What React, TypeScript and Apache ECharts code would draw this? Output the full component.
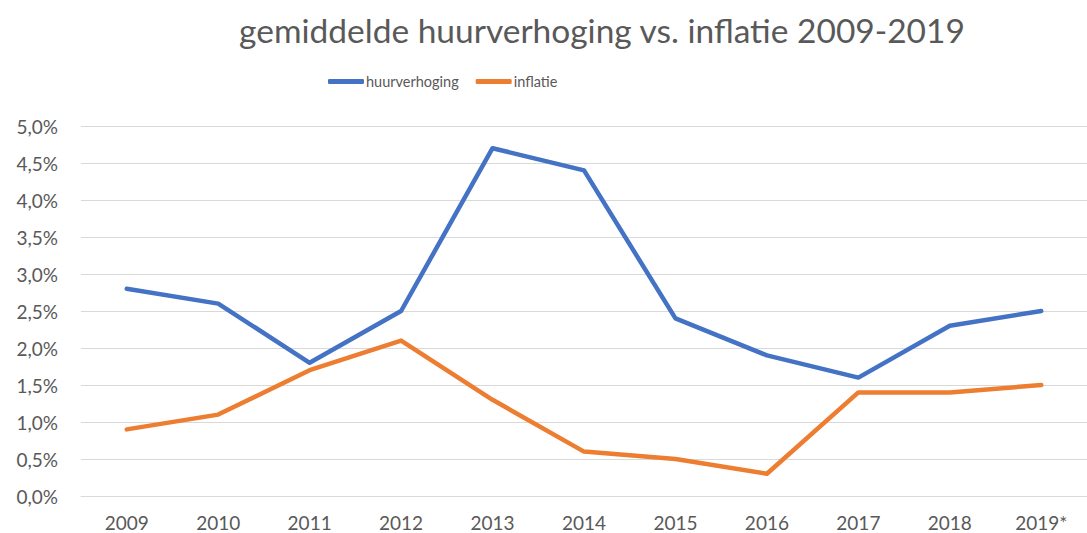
import React, { useEffect, useRef } from "react";
import * as echarts from "echarts";

const categories = ["2009", "2010", "2011", "2012", "2013", "2014", "2015", "2016", "2017", "2018", "2019*"];
const huurverhoging = [2.8, 2.6, 1.8, 2.5, 4.7, 4.4, 2.4, 1.9, 1.6, 2.3, 2.5];
const inflatie = [0.9, 1.1, 1.7, 2.1, 1.3, 0.6, 0.5, 0.3, 1.4, 1.4, 1.5];

const FONT = "Lato, 'Liberation Sans', sans-serif";

export default function App() {
  const ref = useRef<HTMLDivElement>(null);
  useEffect(() => {
    if (!ref.current) return;
    const chart = echarts.init(ref.current, undefined, { renderer: "svg" });
    chart.setOption({
      animation: false,
      backgroundColor: "#ffffff",
      title: {
        text: "gemiddelde huurverhoging vs. inflatie 2009-2019",
        left: 597,
        textAlign: "center",
        top: 8,
        textStyle: { fontFamily: FONT, fontSize: 33.5, fontWeight: "normal", color: "#595959" },
      },
      legend: {
        top: 69,
        left: 323,
        itemWidth: 36,
        itemHeight: 5,
        itemGap: 17,
        icon: "roundRect",
        textStyle: { fontFamily: FONT, fontSize: 14.5, color: "#595959", padding: [0, 0, 0, -3] },
        data: ["huurverhoging", "inflatie"],
      },
      grid: { left: 81, right: -15, top: 126, bottom: 37, containLabel: false },
      xAxis: {
        type: "category",
        data: categories,
        boundaryGap: true,
        axisLine: { lineStyle: { color: "#D9D9D9", width: 1 } },
        axisTick: { show: false },
        axisLabel: { fontFamily: FONT, fontSize: 19, color: "#595959", margin: 17 },
      },
      yAxis: {
        type: "value",
        min: 0,
        max: 5,
        interval: 0.5,
        axisLine: { show: false },
        axisTick: { show: false },
        splitLine: { lineStyle: { color: "#D9D9D9", width: 1 } },
        axisLabel: {
          fontFamily: FONT,
          fontSize: 19,
          color: "#595959",
          margin: 23,
          formatter: (v: number) => v.toFixed(1).replace(".", ",") + "%",
        },
      },
      series: [
        {
          name: "huurverhoging",
          type: "line",
          data: huurverhoging,
          showSymbol: false,
          symbol: "none",
          lineStyle: { color: "#4472C4", width: 4.5, cap: "round", join: "round" },
          itemStyle: { color: "#4472C4" },
        },
        {
          name: "inflatie",
          type: "line",
          data: inflatie,
          showSymbol: false,
          symbol: "none",
          lineStyle: { color: "#ED7D31", width: 4.5, cap: "round", join: "round" },
          itemStyle: { color: "#ED7D31" },
        },
      ],
    });
    return () => chart.dispose();
  }, []);
  return <div ref={ref} style={{ position: "fixed", left: 0, top: 0, width: 1087, height: 533 }} />;
}
